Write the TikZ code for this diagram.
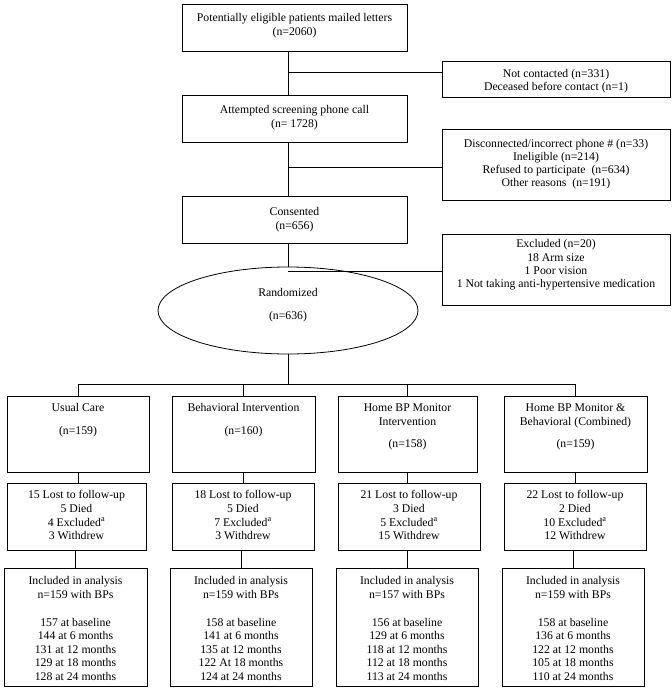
\documentclass[tikz,border=0pt]{standalone}
\usepackage{fontspec}
\setmainfont{Liberation Serif}
\usetikzlibrary{fit,shapes.geometric}
\begin{document}
\begin{tikzpicture}[x=1pt,y=-1pt]
\tikzset{
  box/.style={draw, line width=0.8pt, inner sep=0pt},
  txt/.style={align=center, inner sep=0pt, anchor=north, font=\fontsize{11.75}{13.2}\selectfont},
  txtb/.style={align=center, inner sep=0pt, anchor=north, font=\fontsize{11.75}{13.6}\selectfont},
  conn/.style={line width=0.8pt},
}
\useasboundingbox (0,0) rectangle (672,691);
\fill[white] (0,0) rectangle (672,691);

% main column
\node[box, fit={(182,4) (407,51)}] (b1) {};
\node[txt] (b1t) at (294.5,13.5) {Potentially eligible patients mailed letters\\(n=2060)};
\node[box, fit={(182,95) (407,142)}] (b2) {};
\node[txt] (b2t) at (294.5,105.5) {Attempted screening phone call\\(n= 1728)};
\node[box, fit={(182,196) (407,243)}] (b3) {};
\node[txt] (b3t) at (294.5,207.5) {Consented\\(n=656)};
\node[box, ellipse, minimum width=260pt, minimum height=87pt] (ell) at (288,310.5) {};
\node[txt] (ellt) at (288,288.5) {Randomized\\[9.8pt](n=636)};

% side boxes
\node[box, fit={(442,61) (670,97)}] (s1) {};
\node[txt] (s1t) at (556,69) {Not contacted (n=331)\\Deceased before contact (n=1)};
\node[box, fit={(442,129) (670,200)}] (s2) {};
\node[txt] (s2t) at (556,139) {Disconnected/incorrect phone \# (n=33)\\Ineligible (n=214)\\Refused to participate\ \ (n=634)\\Other reasons\ \ (n=191)};
\node[box, fit={(442,234) (670,305)}] (s3) {};
\node[txt] (s3t) at (556,239.5) {Excluded (n=20)\\18 Arm size\\1 Poor vision\\1 Not taking anti-hypertensive medication};

% spine connectors
\coordinate (spine) at (288,0);
\coordinate (j1) at (288,72);
\coordinate (j2) at (288,167);
\coordinate (j3) at (288,271);
\coordinate (br) at (288,384);
\draw[conn] (b1.south -| spine) -- (b2.north -| spine);
\draw[conn] (b2.south -| spine) -- (b3.north -| spine);
\draw[conn] (b3.south -| spine) -- (ell.north);
\draw[conn] (j1) -- (j1 -| s1.west);
\draw[conn] (j2) -- (j2 -| s2.west);
\draw[conn] (j3) -- (j3 -| s3.west);

% row 1
\node[box, fit={(7,396) (149,472)}] (r1a) {};
\node[txtb] (r1at) at (78,403.5) {Usual Care\\[9.4pt](n=159)};
\node[box, fit={(172,396) (315,472)}] (r1b) {};
\node[txtb] (r1bt) at (243.5,403.5) {Behavioral Intervention\\[9.4pt](n=160)};
\node[box, fit={(338,396) (477,472)}] (r1c) {};
\node[txtb] (r1ct) at (407.5,403.5) {Home BP Monitor\\Intervention\\[8.4pt](n=158)};
\node[box, fit={(504,396) (647,472)}] (r1d) {};
\node[txtb] (r1dt) at (575.5,403.5) {Home BP Monitor \&\\Behavioral (Combined)\\[8.4pt](n=159)};

% row 2
\node[box, fit={(7,483) (146,550)}] (r2a) {};
\node[txtb] (r2at) at (76.5,490.5) {15 Lost to follow-up\\5 Died\\4 Excluded\textsuperscript{a}\\3 Withdrew};
\node[box, fit={(172,483) (314,550)}] (r2b) {};
\node[txtb] (r2bt) at (243,490.5) {18 Lost to follow-up\\5 Died\\7 Excluded\textsuperscript{a}\\3 Withdrew};
\node[box, fit={(338,483) (480,550)}] (r2c) {};
\node[txtb] (r2ct) at (409,490.5) {21 Lost to follow-up\\3 Died\\5 Excluded\textsuperscript{a}\\15 Withdrew};
\node[box, fit={(504,483) (646,550)}] (r2d) {};
\node[txtb] (r2dt) at (575,490.5) {22 Lost to follow-up\\2 Died\\10 Excluded\textsuperscript{a}\\12 Withdrew};

% row 3
\node[box, fit={(4,568) (147,686)}] (r3a) {};
\node[txtb] (r3at) at (75.5,576.5) {Included in analysis\\n=159 with BPs\\[14pt]157 at baseline\\144 at 6 months\\131 at 12 months\\129 at 18 months\\128 at 24 months};
\node[box, fit={(170,568) (312,686)}] (r3b) {};
\node[txtb] (r3bt) at (241,576.5) {Included in analysis\\n=159 with BPs\\[14pt]158 at baseline\\141 at 6 months\\135 at 12 months\\122 At 18 months\\124 at 24 months};
\node[box, fit={(336,568) (478,686)}] (r3c) {};
\node[txtb] (r3ct) at (407,576.5) {Included in analysis\\n=157 with BPs\\[14pt]156 at baseline\\129 at 6 months\\118 at 12 months\\112 at 18 months\\113 at 24 months};
\node[box, fit={(502,568) (644,686)}] (r3d) {};
\node[txtb] (r3dt) at (573,576.5) {Included in analysis\\n=159 with BPs\\[14pt]158 at baseline\\136 at 6 months\\122 at 12 months\\105 at 18 months\\110 at 24 months};

% branch connectors
\draw[conn] (ell.south) -- (br);
\draw[conn] (r1a.north |- br) -- (r1d.north |- br);
\foreach \n in {r1a,r1b,r1c,r1d} {\draw[conn] (\n.north |- br) -- (\n.north);}
\foreach \a/\b in {r1a/r2a,r1b/r2b,r1c/r2c,r1d/r2d} {\draw[conn] (\a.south) -- (\a.south |- \b.north);}
\foreach \a/\b in {r2a/r3a,r2b/r3b,r2c/r3c,r2d/r3d} {\draw[conn] (\b.north |- \a.south) -- (\b.north);}
\end{tikzpicture}
\end{document}
